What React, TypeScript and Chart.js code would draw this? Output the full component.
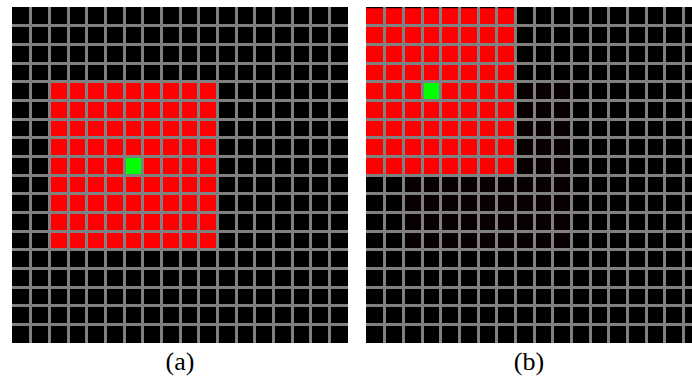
import React, { useEffect, useRef } from "react";
import { Chart, registerables } from "chart.js";

Chart.register(...registerables);

// Grid columns (cell indices) and row range of the grid
const columns = ["0", "1", "2", "3", "4", "5", "6", "7", "8", "9", "10", "11", "12", "13", "14", "15", "16", "17"];
const rowMin = 0;
const rowMax = 18;

// Panel (a): red 9x9 block centred on the green cell
const aRed: ([number, number] | null)[] = [null, null, [4, 13], [4, 13], [4, 13], [4, 13], [4, 13], [4, 13], [4, 13], [4, 13], [4, 13], null, null, null, null, null, null, null];
const aGreen: ([number, number] | null)[] = [null, null, null, null, null, null, [8, 9], null, null, null, null, null, null, null, null, null, null, null];

// Panel (b): block moved so the green cell sits at column 3, row 4
const bRed: ([number, number] | null)[] = [[0, 9], [0, 9], [0, 9], [0, 9], [0, 9], [0, 9], [0, 9], [0, 9], null, null, null, null, null, null, null, null, null, null];
const bGreen: ([number, number] | null)[] = [null, null, null, [4, 5], null, null, null, null, null, null, null, null, null, null, null, null, null, null];
const bGhost: ([number, number] | null)[] = [null, null, [4, 13], [4, 13], [4, 13], [4, 13], [4, 13], [4, 13], [4, 13], [4, 13], [4, 13], null, null, null, null, null, null, null];

const labels = ["(a)", "(b)"];

const GRID = "#808080";

const bgPlugin = {
  id: "blackBg",
  beforeDraw(chart: any) {
    const { ctx, chartArea } = chart;
    ctx.save();
    ctx.fillStyle = "#000000";
    ctx.fillRect(chartArea.left, chartArea.top, chartArea.right - chartArea.left, chartArea.bottom - chartArea.top);
    ctx.restore();
  },
};

function makeConfig(datasets: any[]) {
  return {
    type: "bar",
    data: { labels: columns, datasets },
    options: {
      responsive: false,
      animation: false,
      devicePixelRatio: 1,
      layout: { padding: 0 },
      plugins: { legend: { display: false }, tooltip: { enabled: false }, title: { display: false } },
      datasets: { bar: { barPercentage: 1, categoryPercentage: 1, grouped: false, borderWidth: 0 } },
      scales: {
        x: {
          type: "category",
          offset: true,
          border: { display: false },
          ticks: { display: false },
          grid: {
            z: 1,
            offset: true,
            drawTicks: false,
            lineWidth: 3,
            color: (c: any) => (c.type !== "tick" || c.index === 0 ? "rgba(0,0,0,0)" : GRID),
          },
        },
        y: {
          type: "linear",
          min: rowMin,
          max: rowMax,
          reverse: true,
          border: { display: false },
          ticks: { display: false, stepSize: 1 },
          grid: {
            z: 1,
            drawTicks: false,
            lineWidth: 3,
            color: (c: any) =>
              c.type !== "tick" || !c.tick || c.tick.value === rowMin || c.tick.value === rowMax ? "rgba(0,0,0,0)" : GRID,
          },
        },
      },
    },
    plugins: [bgPlugin],
  } as any;
}

function Panel({ datasets, left }: { datasets: any[]; left: number }) {
  const ref = useRef<HTMLCanvasElement>(null);
  useEffect(() => {
    if (!ref.current) return;
    const chart = new Chart(ref.current, makeConfig(datasets));
    return () => chart.destroy();
  }, []);
  return (
    <canvas
      ref={ref}
      width={336}
      height={336}
      style={{ position: "absolute", left, top: 7, width: 336, height: 336 }}
    />
  );
}

export default function App() {
  const aSets = [
    { data: aGreen, backgroundColor: "#00ff00" },
    { data: aRed, backgroundColor: "#ff0000" },
  ];
  const bSets = [
    { data: bGreen, backgroundColor: "#00ff00" },
    { data: bRed, backgroundColor: "#ff0000" },
    { data: bGhost, backgroundColor: "rgba(255,0,0,0.03)" },
  ];
  const labelStyle: React.CSSProperties = {
    position: "absolute",
    top: 347,
    fontFamily: "'Liberation Serif', serif",
    fontSize: 26,
    lineHeight: "30px",
    color: "#000",
    textAlign: "center",
  };
  return (
    <div style={{ position: "fixed", left: 0, top: 0, width: 692, height: 381, overflow: "hidden", background: "#fff" }}>
      <Panel datasets={aSets} left={12} />
      <Panel datasets={bSets} left={366} />
      <div style={{ ...labelStyle, left: 130, width: 100 }}>{labels[0]}</div>
      <div style={{ ...labelStyle, left: 479, width: 100 }}>{labels[1]}</div>
    </div>
  );
}
